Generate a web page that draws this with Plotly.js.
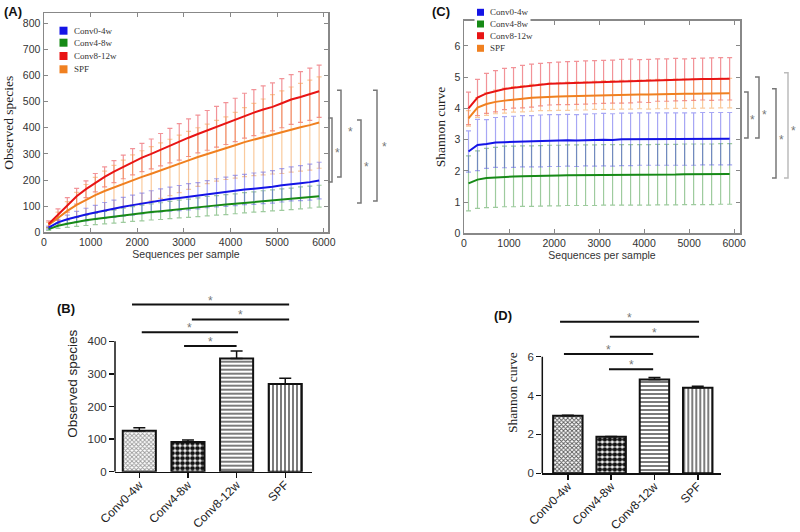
<!DOCTYPE html>
<html>
<head>
<meta charset="utf-8">
<script src="https://cdn.plot.ly/plotly-3.0.1.min.js"></script>
<style>
  html, body { margin: 0; padding: 0; background: #fff; }
  #chart { width: 800px; height: 532px; }
</style>
</head>
<body>
<div id="chart"></div>
<script>
// ─────────────────────────────
// DATOS
// ─────────────────────────────
const GRUPOS = ['Conv0-4w', 'Conv4-8w', 'Conv8-12w', 'SPF'];
const COLORES = ['#1414e6', '#168a16', '#e81414', '#f08020'];
const COLORES_ERR = ['rgba(60,60,230,0.45)', 'rgba(40,140,40,0.45)', 'rgba(230,40,50,0.5)', 'rgba(245,150,60,0.5)'];

const SECUENCIAS = [100, 300, 500, 700, 900, 1100, 1300, 1500, 1700, 1900, 2100, 2300, 2500, 2700, 2900,
  3100, 3300, 3500, 3700, 3900, 4100, 4300, 4500, 4700, 4900, 5100, 5300, 5500, 5700, 5900];

// (A) especies observadas
const OBS_CONV0 = [18, 38, 50, 60, 68, 76, 84, 90, 98, 104, 110, 117, 122, 127, 131, 136, 140, 146, 151, 155, 160, 164, 167, 170, 174, 180, 185, 188, 192, 198];
const OBS_CONV0_ERR = [6, 12, 16, 20, 24, 27, 30, 33, 36, 38, 40, 42, 44, 46, 48, 50, 50, 52, 54, 56, 58, 58, 60, 60, 62, 64, 65, 67, 69, 70];
const OBS_CONV4 = [12, 25, 33, 40, 46, 51, 56, 60, 65, 70, 74, 78, 81, 85, 89, 92, 96, 100, 103, 106, 109, 113, 116, 119, 122, 125, 128, 132, 135, 138];
const OBS_CONV4_ERR = [5, 10, 14, 17, 20, 22, 24, 25, 27, 28, 30, 31, 32, 33, 34, 35, 36, 37, 37, 38, 38, 39, 39, 40, 40, 41, 41, 42, 42, 42];
const OBS_CONV8 = [32, 68, 105, 138, 165, 190, 212, 232, 250, 270, 286, 300, 316, 332, 346, 362, 376, 390, 404, 416, 430, 446, 458, 470, 480, 494, 508, 518, 528, 540];
const OBS_CONV8_ERR = [12, 22, 28, 30, 32, 35, 38, 42, 45, 50, 54, 57, 62, 66, 70, 72, 72, 76, 78, 80, 83, 86, 88, 90, 92, 94, 95, 97, 100, 100];
const OBS_SPF = [28, 55, 82, 105, 125, 142, 158, 172, 186, 200, 212, 224, 236, 248, 262, 275, 288, 300, 312, 322, 333, 345, 355, 365, 375, 383, 393, 402, 410, 420];
const OBS_SPF_ERR = [10, 22, 35, 48, 58, 68, 76, 84, 90, 96, 100, 104, 106, 108, 110, 111, 112, 114, 116, 120, 126, 132, 138, 145, 152, 158, 163, 168, 172, 175];

// (C) curva de Shannon
const SHA_CONV0 = [2.62, 2.83, 2.86, 2.91, 2.92, 2.93, 2.95, 2.95, 2.96, 2.97, 2.97, 2.98, 2.97, 2.99, 2.99, 3.00, 2.99, 3.01, 3.01, 3.02, 3.02, 3.02, 3.02, 3.02, 3.02, 3.02, 3.03, 3.03, 3.03, 3.03];
const SHA_CONV0_ERR = [0.66, 0.82, 0.78, 0.80, 0.82, 0.82, 0.82, 0.82, 0.83, 0.83, 0.83, 0.83, 0.83, 0.83, 0.84, 0.84, 0.84, 0.84, 0.84, 0.84, 0.84, 0.84, 0.84, 0.84, 0.84, 0.84, 0.84, 0.84, 0.84, 0.84];
const SHA_CONV4 = [1.60, 1.72, 1.77, 1.79, 1.82, 1.82, 1.83, 1.83, 1.84, 1.85, 1.85, 1.86, 1.86, 1.86, 1.86, 1.87, 1.87, 1.87, 1.87, 1.87, 1.87, 1.88, 1.88, 1.88, 1.89, 1.89, 1.89, 1.89, 1.90, 1.90];
const SHA_CONV4_ERR = [0.88, 0.92, 0.95, 0.96, 0.97, 0.97, 0.97, 0.97, 0.97, 0.97, 0.97, 0.97, 0.97, 0.97, 0.97, 0.97, 0.97, 0.97, 0.97, 0.97, 0.97, 0.97, 0.97, 0.97, 0.97, 0.97, 0.97, 0.97, 0.97, 0.97];
const SHA_CONV8 = [4.00, 4.35, 4.48, 4.55, 4.62, 4.66, 4.70, 4.73, 4.76, 4.79, 4.80, 4.81, 4.82, 4.83, 4.84, 4.85, 4.86, 4.87, 4.88, 4.88, 4.88, 4.91, 4.91, 4.92, 4.92, 4.93, 4.94, 4.94, 4.95, 4.95];
const SHA_CONV8_ERR = [0.52, 0.58, 0.64, 0.66, 0.66, 0.65, 0.68, 0.69, 0.68, 0.68, 0.68, 0.69, 0.69, 0.69, 0.69, 0.69, 0.69, 0.70, 0.70, 0.68, 0.69, 0.68, 0.68, 0.68, 0.67, 0.67, 0.67, 0.68, 0.68, 0.68];
const SHA_SPF = [3.68, 4.03, 4.14, 4.21, 4.25, 4.29, 4.31, 4.34, 4.36, 4.37, 4.38, 4.39, 4.40, 4.40, 4.42, 4.43, 4.43, 4.44, 4.44, 4.45, 4.45, 4.46, 4.46, 4.47, 4.47, 4.47, 4.48, 4.48, 4.49, 4.49];
const SHA_SPF_ERR = [0.25, 0.32, 0.36, 0.38, 0.40, 0.41, 0.42, 0.43, 0.43, 0.44, 0.44, 0.45, 0.45, 0.45, 0.45, 0.46, 0.46, 0.46, 0.46, 0.46, 0.47, 0.47, 0.47, 0.47, 0.47, 0.47, 0.47, 0.47, 0.47, 0.47];

// (B) y (D) barras
const BAR_OBS = [126, 91, 347, 269];
const BAR_OBS_ERR = [9, 6, 23, 18];
const BAR_SHA = [2.96, 1.88, 4.83, 4.40];
const BAR_SHA_ERR = [0.03, 0.02, 0.10, 0.08];

// corchetes de significancia (A, C): valor inferior / superior, y posicion de la estrella
const BRK_A_LO = [192, 212, 112, 120];
const BRK_A_HI = [437, 544, 430, 544];
const BRK_A_STAR = [315, 395, 261, 338];
const BRK_C_LO = [3.05, 3.05, 1.77, 1.77];
const BRK_C_HI = [4.53, 5.01, 4.63, 5.14];
const BRK_C_STAR = [3.73, 3.88, 3.08, 3.37];

// lineas de significancia (B, D): desde / hasta (posicion de categoria) y altura
const SIG_B_DESDE = [-0.15, 1.08, 0.05, 0.92];
const SIG_B_HASTA = [3.08, 3.08, 2.03, 2.00];
const SIG_B_Y = [513, 467, 428, 386];
const SIG_D_DESDE = [-0.18, 0.97, -0.09, 0.95];
const SIG_D_HASTA = [3.03, 3.03, 1.97, 1.97];
const SIG_D_Y = [7.80, 7.03, 6.14, 5.35];


// ─────────────────────────────
// ESTILO
// ─────────────────────────────
const SANS = 'Liberation Sans, Arial, sans-serif';
const SERIF = 'Liberation Serif, Times New Roman, serif';
const W = 800, H = 532;
const px = v => v / W;
const py = v => 1 - v / H;

const traces = [];
const shapes = [];
const annotations = [];


// ─────────────────────────────
// CURVAS (A, C)
// ─────────────────────────────
function _curvas(xa, ya, medias, errores) {
  // barras de error primero (rojo, naranja, verde, azul)
  [2, 3, 1, 0].forEach(i => {
    traces.push({
      x: SECUENCIAS, y: medias[i], xaxis: xa, yaxis: ya,
      type: 'scatter', mode: 'lines', line: { width: 0 },
      error_y: { type: 'data', array: errores[i], color: COLORES_ERR[i], thickness: 1.2, width: 2.5 },
      showlegend: false, hoverinfo: 'skip'
    });
  });
  // lineas encima
  [1, 0, 3, 2].forEach(i => {
    traces.push({
      x: SECUENCIAS, y: medias[i], xaxis: xa, yaxis: ya,
      type: 'scatter', mode: 'lines', line: { color: COLORES[i], width: 2 },
      showlegend: false, name: GRUPOS[i]
    });
  });
}

_curvas('x', 'y', [OBS_CONV0, OBS_CONV4, OBS_CONV8, OBS_SPF], [OBS_CONV0_ERR, OBS_CONV4_ERR, OBS_CONV8_ERR, OBS_SPF_ERR]);
_curvas('x2', 'y2', [SHA_CONV0, SHA_CONV4, SHA_CONV8, SHA_SPF], [SHA_CONV0_ERR, SHA_CONV4_ERR, SHA_CONV8_ERR, SHA_SPF_ERR]);


// ─────────────────────────────
// BARRAS (B, D)
// ─────────────────────────────
function _barras(xa, ya, vals, errs, gris) {
  traces.push({
    type: 'bar', x: [0, 1, 2, 3], y: vals, width: 0.68, xaxis: xa, yaxis: ya,
    marker: {
      color: 'white',
      line: { color: '#111', width: 2 },
      pattern: {
        shape: ['x', '.', '-', '|'],
        fgcolor: [gris, '#111', '#222', '#222'],
        size: [3, 5, 4, 4],
        solidity: [0.5, 0.7, 0.3, 0.3]
      }
    },
    error_y: { type: 'data', symmetric: false, array: errs, arrayminus: [0, 0, 0, 0], color: '#111', thickness: 1.5, width: 6 },
    showlegend: false
  });
}

function _lineasSig(xa, ya, desde, hasta, alturas) {
  const xs = [], ys = [];
  desde.forEach((d, i) => {
    xs.push(d, hasta[i], null);
    ys.push(alturas[i], alturas[i], null);
    annotations.push({
      xref: xa, yref: ya, x: (d + hasta[i]) / 2, y: alturas[i],
      text: '*', showarrow: false, yanchor: 'bottom', yshift: -5,
      font: { family: SANS, size: 12, color: '#777' }
    });
  });
  traces.push({
    x: xs, y: ys, xaxis: xa, yaxis: ya, type: 'scatter', mode: 'lines',
    line: { color: '#111', width: 2 }, showlegend: false, hoverinfo: 'skip', cliponaxis: false
  });
}

_barras('x3', 'y3', BAR_OBS, BAR_OBS_ERR, '#999');
_barras('x4', 'y4', BAR_SHA, BAR_SHA_ERR, '#555');
_lineasSig('x3', 'y3', SIG_B_DESDE, SIG_B_HASTA, SIG_B_Y);
_lineasSig('x4', 'y4', SIG_D_DESDE, SIG_D_HASTA, SIG_D_Y);

// eje y recortado (solo hasta el ultimo tick)
shapes.push({ type: 'line', xref: 'x3 domain', yref: 'y3', x0: 0, x1: 0, y0: 0, y1: 400, line: { color: '#111', width: 1.5 } });
shapes.push({ type: 'line', xref: 'x4 domain', yref: 'y4', x0: 0, x1: 0, y0: 0, y1: 6, line: { color: '#111', width: 1.5 } });


// ─────────────────────────────
// CORCHETES (A, C)
// ─────────────────────────────
function _corchetes(yref, xsPx, lo, hi, star, starPx, colores) {
  xsPx.forEach((x, i) => {
    const a = px(x - 4), b = px(x);
    shapes.push({
      type: 'path', xref: 'paper', yref,
      path: `M ${a},${hi[i]} L ${b},${hi[i]} L ${b},${lo[i]} L ${a},${lo[i]}`,
      line: { color: colores[i], width: 1.5 }
    });
    annotations.push({
      xref: 'paper', yref, x: px(starPx[i]), y: star[i], text: '*', showarrow: false,
      xanchor: 'center', yshift: -3, font: { family: SANS, size: 12, color: '#777' }
    });
  });
}

_corchetes('y', [332, 341, 361, 377], BRK_A_LO, BRK_A_HI, BRK_A_STAR, [337, 350, 366, 384], ['#777', '#777', '#777', '#777']);
_corchetes('y2', [748, 759, 776, 788], BRK_C_LO, BRK_C_HI, BRK_C_STAR, [752, 764, 781, 793], ['#777', '#777', '#777', '#bbb']);


// ─────────────────────────────
// LEYENDAS (A, C)
// ─────────────────────────────
function _leyenda(cx, filas, lado, textoX, fondo) {
  if (fondo) {
    shapes.push({
      type: 'rect', xref: 'paper', yref: 'paper', layer: 'above',
      x0: px(cx - 6), x1: px(cx + 50), y0: py(filas[3] + 6), y1: py(filas[0] - 6),
      fillcolor: 'white', line: { width: 0 }
    });
  }
  GRUPOS.forEach((g, i) => {
    shapes.push({
      type: 'rect', xref: 'paper', yref: 'paper', layer: 'above',
      x0: px(cx - lado / 2), x1: px(cx + lado / 2),
      y0: py(filas[i] + lado / 2), y1: py(filas[i] - lado / 2),
      fillcolor: COLORES[i], line: { width: 0 }
    });
    annotations.push({
      xref: 'paper', yref: 'paper', x: px(textoX), y: py(filas[i]), xanchor: 'left', yanchor: 'middle',
      text: g, showarrow: false, font: { family: SERIF, size: 9, color: '#333' }
    });
  });
}

_leyenda(63.5, [30.7, 42.7, 56, 69.3], 8, 71.5, false);
_leyenda(480.5, [12.3, 24, 35.7, 48.3], 7, 487.5, true);


// ─────────────────────────────
// ETIQUETAS DE PANEL
// ─────────────────────────────
[['(A)', 13, 12], ['(C)', 441, 12], ['(B)', 66, 308], ['(D)', 503, 315]].forEach(([t, x, y]) => {
  annotations.push({
    xref: 'paper', yref: 'paper', x: px(x), y: py(y), xanchor: 'center', yanchor: 'middle',
    text: `<b>${t}</b>`, showarrow: false,
    font: { family: SANS, size: 13, color: '#111' }
  });
});


// ─────────────────────────────
// EJES
// ─────────────────────────────
function _ejeCaja(extra) {
  return Object.assign({
    showline: true, mirror: 'ticks', linecolor: '#888', linewidth: 1.5,
    ticks: 'inside', ticklen: 4, tickcolor: '#888', tickwidth: 1,
    showgrid: false, zeroline: false,
    tickfont: { family: SANS, size: 10.5, color: '#333' }
  }, extra);
}

function _ejeBarra(extra) {
  return Object.assign({
    showline: true, linecolor: '#111', linewidth: 1.5,
    ticks: 'outside', ticklen: 5, tickcolor: '#111', tickwidth: 1.5,
    showgrid: false, zeroline: false,
    tickfont: { family: SANS, size: 11.5, color: '#333' }
  }, extra);
}

const layout = {
  width: W, height: H,
  margin: { l: 0, r: 0, t: 0, b: 0 },
  paper_bgcolor: 'white', plot_bgcolor: 'white',
  showlegend: false,
  xaxis: _ejeCaja({
    domain: [px(44), px(328)], range: [0, 6090], dtick: 1000, anchor: 'y',
    title: { text: 'Sequences per sample', font: { family: SANS, size: 10.5, color: '#333' }, standoff: 2 }
  }),
  yaxis: _ejeCaja({
    domain: [py(232.3), py(13.3)], range: [0, 838], dtick: 100, anchor: 'x',
    title: { text: 'Observed species', font: { family: SERIF, size: 13.5, color: '#222' }, standoff: 6 }
  }),
  xaxis2: _ejeCaja({
    domain: [px(464), px(740)], range: [0, 6130], dtick: 1000, anchor: 'y2',
    title: { text: 'Sequences per sample', font: { family: SANS, size: 10.5, color: '#333' }, standoff: 2 }
  }),
  yaxis2: _ejeCaja({
    domain: [py(233.3), py(20.7)], range: [0, 6.81], dtick: 1, anchor: 'x2',
    title: { text: 'Shannon curve', font: { family: SERIF, size: 13.5, color: '#222' }, standoff: 6 }
  }),
  xaxis3: _ejeBarra({
    domain: [px(115), px(312)], range: [-0.5, 3.55], anchor: 'y3',
    tickvals: [0, 1, 2, 3], ticktext: GRUPOS, tickangle: -45, ticklabelstandoff: -5,
    tickfont: { family: SANS, size: 12, color: '#222' }
  }),
  yaxis3: _ejeBarra({
    domain: [py(471.7), py(295.7)], range: [0, 540], anchor: 'x3', showline: false,
    tickvals: [0, 100, 200, 300, 400],
    title: { text: 'Observed species', font: { family: SANS, size: 13.5, color: '#222' }, standoff: 6 }
  }),
  xaxis4: _ejeBarra({
    domain: [px(542.3), px(720.7)], range: [-0.59, 3.53], anchor: 'y4',
    tickvals: [0, 1, 2, 3], ticktext: GRUPOS, tickangle: -45, ticklabelstandoff: -5,
    tickfont: { family: SANS, size: 12, color: '#222' }
  }),
  yaxis4: _ejeBarra({
    domain: [py(473.3), py(312)], range: [0, 8.3], anchor: 'x4', showline: false,
    tickvals: [0, 2, 4, 6],
    title: { text: 'Shannon curve', font: { family: SERIF, size: 13.5, color: '#222' }, standoff: 6 }
  }),
  shapes, annotations
};

Plotly.newPlot('chart', traces, layout, { displayModeBar: false, staticPlot: true });
</script>
</body>
</html>
